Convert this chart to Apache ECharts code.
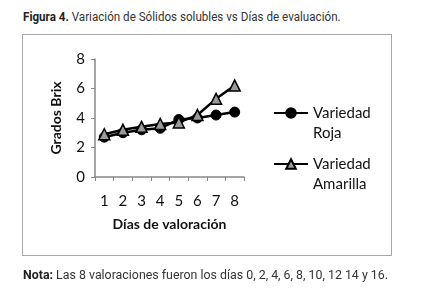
<!DOCTYPE html>
<html>
<head>
<meta charset="utf-8">
<script src="https://cdn.jsdelivr.net/npm/echarts@6/dist/echarts.min.js"></script>
<style>
  html, body { margin: 0; padding: 0; background: #fff; }
  #page { position: relative; width: 422px; height: 305px; overflow: hidden; }
  .cap { position: absolute; left: 23px; font-family: "Roboto", sans-serif; font-size: 12.5px; color: #333; white-space: nowrap; transform-origin: 0 0; }
  .cap b { color: #222; }
  #box { position: absolute; left: 22px; top: 34px; width: 368px; height: 220px; border: 1.5px solid #a8a8a8; }
  #chart { position: absolute; left: 0; top: 0; width: 422px; height: 305px; }
</style>
</head>
<body>
<div id="page">
  <div class="cap" style="top:9px; transform: scaleX(0.93)"><b>Figura 4.</b> Variación de Sólidos solubles vs Días de evaluación.</div>
  <div id="box"></div>
  <div id="chart"></div>
  <div class="cap" style="top:267px; transform: scaleX(0.99)"><b>Nota:</b> Las 8 valoraciones fueron los días 0, 2, 4, 6, 8, 10, 12 14 y 16.</div>
</div>
<script>
const days = ['1', '2', '3', '4', '5', '6', '7', '8'];
const roja = [2.7, 3.0, 3.2, 3.3, 3.9, 4.0, 4.2, 4.4];
const amarilla = [2.9, 3.2, 3.4, 3.6, 3.7, 4.2, 5.3, 6.2];

const font = 'Lato, "Open Sans", sans-serif';
const chart = echarts.init(document.getElementById('chart'));

// blank first line so the icon sits beside "Variedad"
function legendFor(name, top) {
  return {
    data: [name],
    left: 273,
    top: top,
    padding: 0,
    itemWidth: 34,
    itemHeight: 12,
    itemGap: 0,
    formatter: n => ' \n' + n.replace(' ', '\n'),
    textStyle: { fontFamily: font, fontSize: 15, color: '#111', lineHeight: 20 }
  };
}

chart.setOption({
  animation: false,
  grid: { left: 95, right: 178, top: 59, bottom: 128 },
  legend: [legendFor('Variedad Roja', 83), legendFor('Variedad Amarilla', 134)],
  xAxis: {
    type: 'category',
    data: days,
    boundaryGap: true,
    name: 'Días de valoración',
    nameLocation: 'middle',
    nameGap: 40,
    nameTextStyle: { fontFamily: font, fontSize: 14, fontWeight: 'bold', color: '#111' },
    axisLine: { lineStyle: { color: '#888', width: 1.5 } },
    axisTick: { show: true, length: 4, lineStyle: { color: '#888' } },
    axisLabel: { fontFamily: font, fontSize: 15, color: '#111', margin: 17 }
  },
  yAxis: {
    type: 'value',
    min: 0,
    max: 8,
    interval: 2,
    name: 'Grados Brix',
    nameLocation: 'middle',
    nameGap: 32,
    nameTextStyle: { fontFamily: font, fontSize: 14, fontWeight: 'bold', color: '#111' },
    splitLine: { show: false },
    axisLine: { show: true, lineStyle: { color: '#888', width: 1.5 } },
    axisTick: { show: true, length: 4, lineStyle: { color: '#888' } },
    axisLabel: { fontFamily: font, fontSize: 15, color: '#111', margin: 10 }
  },
  series: [
    {
      name: 'Variedad Roja',
      type: 'line',
      data: roja,
      symbol: 'circle',
      symbolSize: 10,
      lineStyle: { color: '#000', width: 2.5 },
      itemStyle: { color: '#000', borderColor: '#000', borderWidth: 1 }
    },
    {
      name: 'Variedad Amarilla',
      type: 'line',
      data: amarilla,
      symbol: 'triangle',
      symbolSize: 11,
      lineStyle: { color: '#000', width: 2.5 },
      itemStyle: { color: '#9a9a9a', borderColor: '#000', borderWidth: 1.5 }
    }
  ]
});
</script>
</body>
</html>
